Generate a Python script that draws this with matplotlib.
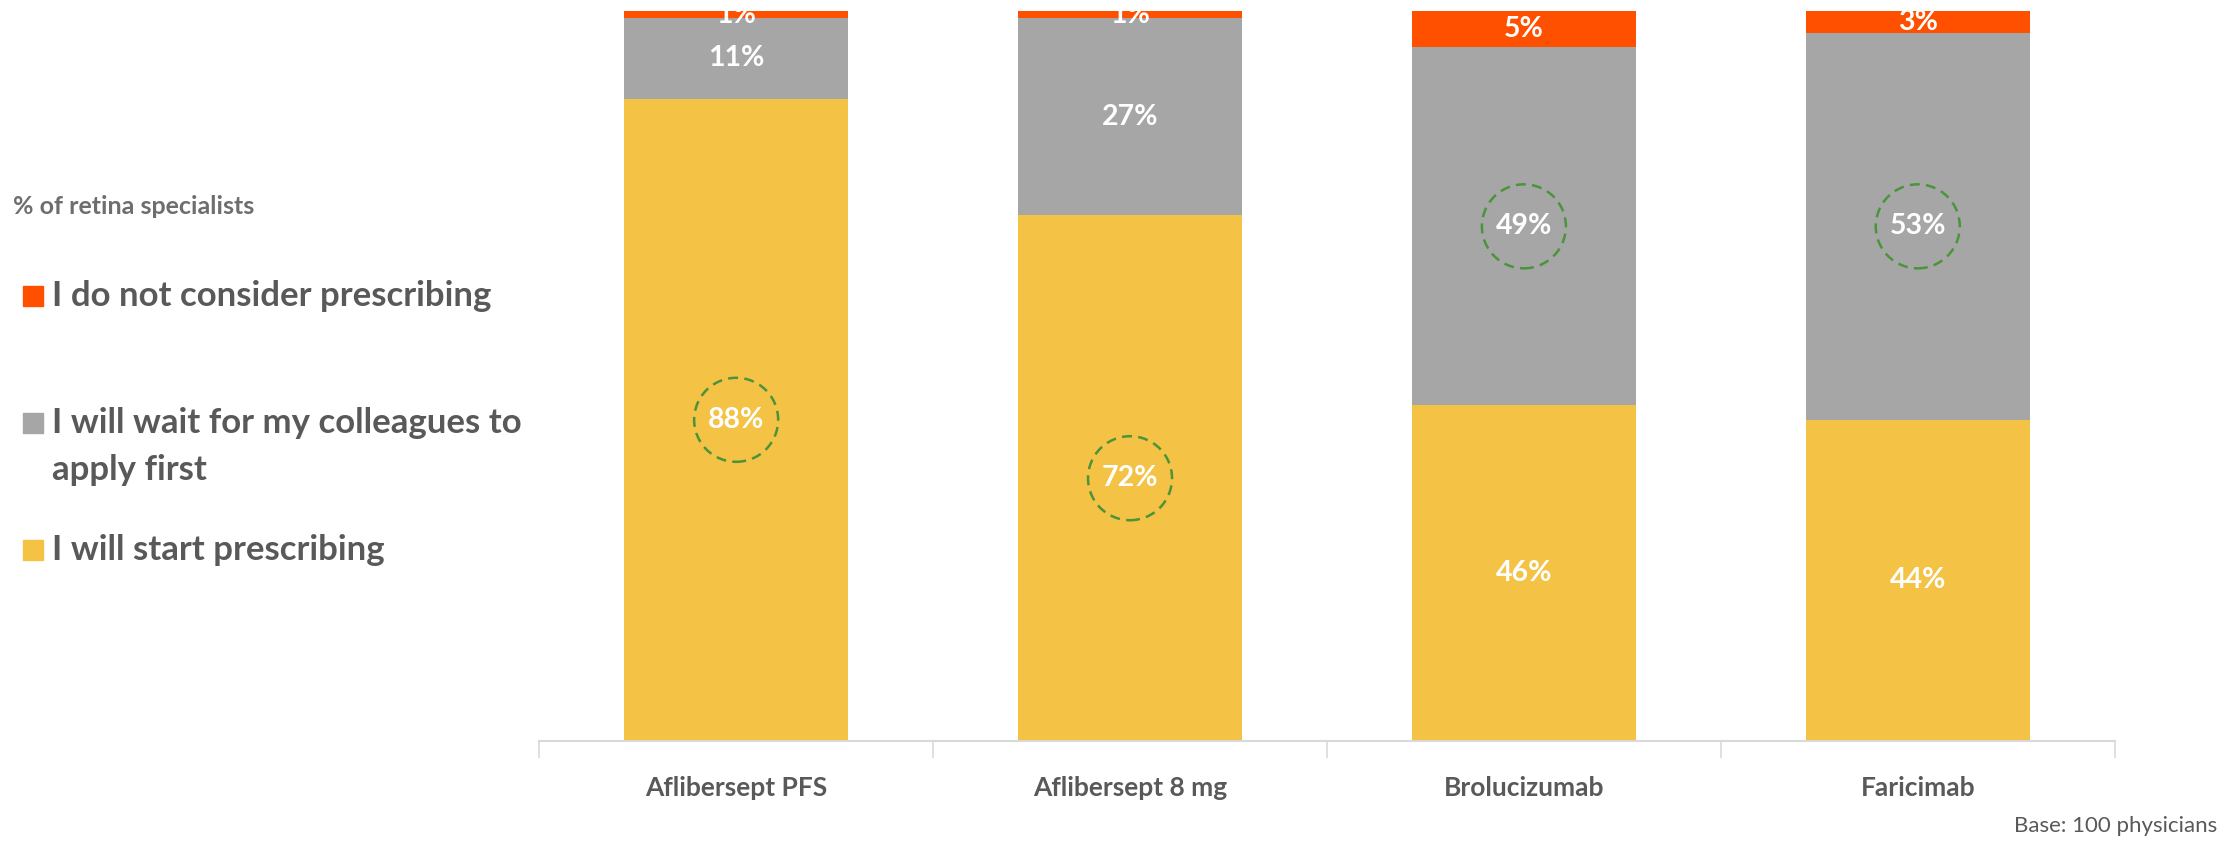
import matplotlib
matplotlib.use("Agg")
from matplotlib import pyplot as plt
from matplotlib.patches import Rectangle, Ellipse
import numpy as np

plt.rcParams['font.family'] = ['Lato', 'DejaVu Sans']

products = ["Aflibersept PFS", "Aflibersept 8 mg", "Brolucizumab", "Faricimab"]
startPrescribing = [88, 72, 46, 44]
waitForColleagues = [11, 27, 49, 53]
notConsider = [1, 1, 5, 3]

seriesNames = ["I will start prescribing",
               "I will wait for my colleagues to\napply first",
               "I do not consider prescribing"]
seriesColors = ["#F4C245", "#A6A6A6", "#FF5000"]

textGray = "#595959"
W, H = 2219, 844

fig = plt.figure(figsize=(W / 100, H / 100), dpi=100)
ax = fig.add_axes([0.243, 0.122, 0.710, 0.865])

x = np.arange(len(products))
series = [startPrescribing, waitForColleagues, notConsider]
bottom = np.zeros(len(products))
for values, color in zip(series, seriesColors):
    values = np.array(values, dtype=float)
    ax.bar(x, values, width=0.57, bottom=bottom, color=color, edgecolor="none", zorder=2)
    for xi, b, v in zip(x, bottom, values):
        ax.text(xi, b + v / 2, f"{int(v)}%", ha="center", va="center",
                color="white", fontsize=20.5, fontweight="bold", zorder=4)
    bottom += values

ax.set_xlim(-0.5, len(products) - 0.5)
ax.set_ylim(0, 100)

# dashed ring around the biggest segment of each bar (84 px across)
pxPerX = ax.get_position().width * W / (len(products))
pxPerY = ax.get_position().height * H / 100
segs = np.array(series, dtype=float)
for i in range(len(products)):
    k = int(np.argmax(segs[:, i]))
    yc = segs[:k, i].sum() + segs[k, i] / 2
    ax.add_patch(Ellipse((i, yc), 84 / pxPerX, 84 / pxPerY, fill=False,
                         edgecolor="#4A9439", linewidth=1.8,
                         linestyle=(0, (4, 2.5)), zorder=3))

for side in ["top", "right", "left"]:
    ax.spines[side].set_visible(False)
ax.spines["bottom"].set_color("#D9D9D9")
ax.spines["bottom"].set_linewidth(1.5)
ax.set_yticks([])
ax.set_xticks(x)
ax.set_xticklabels(products, fontsize=19, fontweight="bold", color=textGray)
ax.tick_params(axis="x", which="major", length=0, pad=25)
ax.set_xticks(np.arange(-0.5, len(products), 1), minor=True)
ax.tick_params(axis="x", which="minor", length=12, color="#D9D9D9", width=1.2)

# legend drawn by hand on the left
fig.text(13 / W, 1 - 207 / H, "% of retina specialists", fontsize=18,
         fontweight="bold", color="#6E6E6E", va="center")
legendY = [550, 423, 296]
for name, color, yy in zip(seriesNames, seriesColors, legendY):
    fig.add_artist(Rectangle((23 / W, 1 - (yy + 10) / H), 20 / W, 20 / H,
                             transform=fig.transFigure, color=color))
    lines = name.split("\n")
    for j, line in enumerate(lines):
        fig.text(52 / W, 1 - (yy + j * 47) / H, line, fontsize=25,
                 fontweight="bold", color=textGray, va="center")

fig.text(0.999, 1 - 826 / H, "Base: 100 physicians", fontsize=16,
         color=textGray, ha="right", va="center")

fig.savefig("out.png", dpi=100)
